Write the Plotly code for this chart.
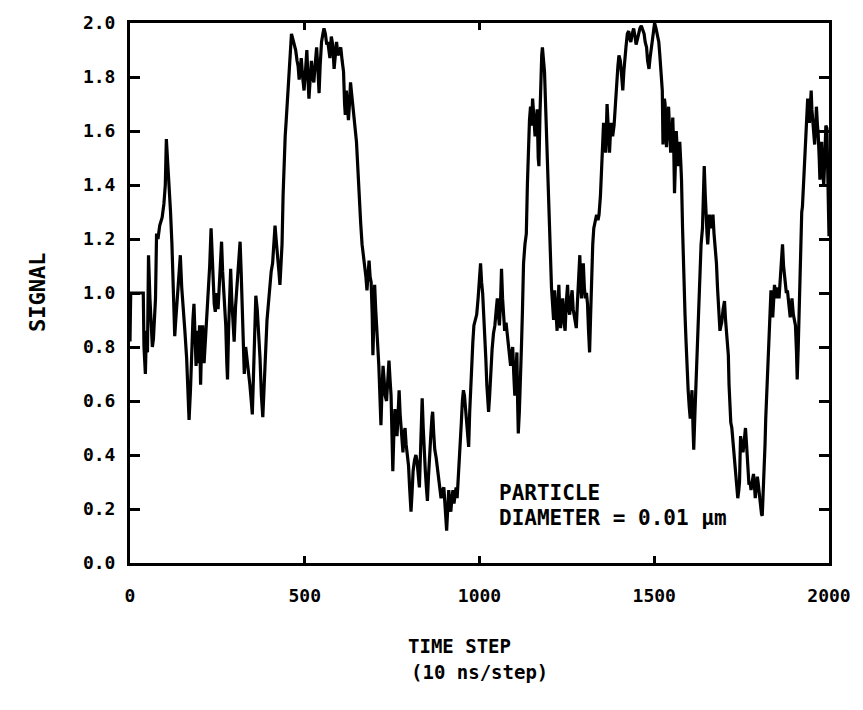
import plotly.graph_objects as go

# Time step (10 ns per step) and detected signal for a 0.01 um particle
time_step = [
    0, 2, 38, 40, 44, 47, 50, 53, 57, 60, 64, 67, 70, 73, 76, 80, 85, 92, 97, 101,
    104, 108, 112, 116, 120, 124, 128, 131, 135, 140, 144, 148, 152, 157, 162, 166, 169, 173, 176, 180,
    183, 186, 189, 193, 196, 199, 202, 205, 208, 212, 216, 220, 224, 228, 232, 235, 238, 241, 244, 248,
    252, 256, 259, 262, 265, 268, 271, 274, 277, 279, 282, 285, 288, 291, 294, 298, 302, 306, 310, 315,
    318, 321, 324, 327, 331, 335, 339, 343, 347, 350, 353, 356, 360, 364, 368, 372, 376, 380, 384, 388,
    392, 396, 400, 404, 408, 412, 415, 418, 422, 426, 429, 432, 435, 438, 441, 444, 447, 450, 453, 456,
    459, 462, 466, 470, 474, 478, 481, 484, 487, 490, 494, 498, 502, 506, 509, 512, 516, 519, 523, 526,
    530, 534, 538, 541, 544, 548, 552, 555, 559, 563, 566, 569, 572, 576, 580, 584, 588, 591, 595, 599,
    603, 607, 611, 614, 616, 619, 622, 625, 628, 631, 634, 638, 641, 644, 648, 652, 656, 660, 664, 668,
    672, 675, 678, 681, 684, 687, 690, 693, 695, 697, 700, 703, 706, 709, 712, 715, 718, 721, 724, 727,
    730, 734, 738, 741, 744, 747, 750, 752, 755, 758, 761, 764, 767, 770, 773, 777, 781, 784, 787, 790,
    794, 797, 800, 804, 807, 810, 814, 818, 821, 825, 828, 831, 834, 836, 839, 842, 845, 848, 851, 854,
    857, 861, 864, 866, 869, 872, 876, 879, 882, 886, 890, 894, 898, 901, 904, 906, 909, 912, 915, 918,
    921, 924, 927, 930, 933, 936, 939, 942, 945, 948, 951, 954, 957, 960, 963, 966, 969, 972, 975, 978,
    981, 984, 988, 992, 996, 1000, 1003, 1006, 1009, 1012, 1015, 1018, 1021, 1024, 1026, 1029, 1032, 1036, 1040, 1044,
    1048, 1051, 1054, 1057, 1060, 1063, 1066, 1069, 1072, 1076, 1080, 1084, 1087, 1089, 1092, 1095, 1098, 1101, 1104, 1107,
    1109, 1111, 1114, 1117, 1120, 1123, 1126, 1130, 1134, 1137, 1140, 1143, 1146, 1149, 1152, 1156, 1159, 1162, 1165, 1168,
    1170, 1173, 1175, 1178, 1180, 1183, 1186, 1189, 1192, 1195, 1197, 1200, 1202, 1206, 1209, 1212, 1215, 1218, 1222, 1225,
    1227, 1230, 1232, 1235, 1238, 1241, 1245, 1248, 1252, 1255, 1258, 1262, 1265, 1268, 1272, 1277, 1280, 1284, 1287, 1290,
    1292, 1295, 1297, 1300, 1303, 1306, 1309, 1312, 1315, 1318, 1321, 1324, 1327, 1331, 1335, 1339, 1342, 1346, 1349, 1352,
    1355, 1358, 1361, 1365, 1368, 1372, 1375, 1377, 1381, 1385, 1389, 1392, 1396, 1399, 1403, 1407, 1410, 1413, 1416, 1419,
    1423, 1427, 1430, 1433, 1437, 1441, 1445, 1448, 1452, 1455, 1459, 1463, 1467, 1471, 1474, 1478, 1481, 1485, 1488, 1491,
    1495, 1498, 1501, 1505, 1509, 1513, 1516, 1518, 1521, 1523, 1525, 1527, 1529, 1531, 1533, 1535, 1538, 1541, 1544, 1547,
    1550, 1553, 1556, 1558, 1561, 1563, 1566, 1568, 1571, 1573, 1576, 1578, 1581, 1583, 1586, 1588, 1591, 1593, 1597, 1600,
    1603, 1606, 1608, 1611, 1613, 1616, 1618, 1621, 1623, 1627, 1631, 1634, 1638, 1641, 1643, 1646, 1648, 1651, 1653, 1656,
    1658, 1661, 1663, 1666, 1668, 1671, 1673, 1676, 1678, 1681, 1683, 1686, 1688, 1691, 1693, 1697, 1701, 1704, 1706, 1709,
    1712, 1714, 1716, 1719, 1722, 1724, 1728, 1731, 1735, 1739, 1742, 1744, 1746, 1747, 1750, 1754, 1758, 1761, 1764, 1767,
    1770, 1771, 1774, 1777, 1780, 1784, 1787, 1789, 1792, 1795, 1797, 1800, 1804, 1807, 1809, 1812, 1814, 1817, 1819, 1822,
    1824, 1827, 1829, 1832, 1834, 1837, 1839, 1842, 1844, 1847, 1849, 1852, 1854, 1857, 1859, 1862, 1864, 1867, 1870, 1874,
    1878, 1881, 1885, 1889, 1892, 1894, 1898, 1901, 1904, 1907, 1909, 1912, 1914, 1917, 1919, 1922, 1924, 1927, 1929, 1932,
    1934, 1937, 1939, 1942, 1944, 1947, 1949, 1951, 1954, 1957, 1959, 1962, 1964, 1967, 1969, 1972, 1974, 1977, 1979, 1982,
    1985, 1988, 1991, 1994, 1996, 1998, 2000,
]

signal = [
    0.82, 1.00, 1.00, 0.80, 0.70, 0.86, 0.78, 1.14, 0.98, 0.89, 0.80, 0.83, 0.92, 0.98, 1.22, 1.20, 1.25, 1.28, 1.33, 1.40,
    1.57, 1.48, 1.42, 1.30, 1.18, 1.03, 0.84, 0.90, 0.98, 1.08, 1.14, 1.02, 0.96, 0.86, 0.76, 0.62, 0.53, 0.64, 0.78, 0.90,
    0.96, 0.84, 0.73, 0.86, 0.74, 0.88, 0.66, 0.82, 0.88, 0.74, 0.82, 0.90, 0.98, 1.10, 1.24, 1.14, 1.03, 0.96, 0.93, 1.00,
    0.94, 1.06, 1.12, 1.19, 1.08, 1.02, 0.94, 0.88, 0.74, 0.68, 0.86, 1.00, 1.09, 0.98, 0.90, 0.82, 0.95, 1.03, 1.12, 1.19,
    1.08, 0.95, 0.76, 0.70, 0.80, 0.76, 0.70, 0.66, 0.60, 0.55, 0.68, 0.86, 0.99, 0.94, 0.86, 0.76, 0.62, 0.54, 0.66, 0.79,
    0.90, 0.96, 1.03, 1.08, 1.11, 1.18, 1.25, 1.20, 1.15, 1.08, 1.03, 1.12, 1.18, 1.36, 1.50, 1.58, 1.64, 1.70, 1.76, 1.84,
    1.92, 1.96, 1.94, 1.92, 1.90, 1.86, 1.84, 1.79, 1.82, 1.87, 1.80, 1.75, 1.82, 1.90, 1.80, 1.72, 1.80, 1.86, 1.80, 1.78,
    1.85, 1.91, 1.82, 1.74, 1.84, 1.93, 1.96, 1.98, 1.96, 1.92, 1.93, 1.90, 1.87, 1.95, 1.92, 1.83, 1.90, 1.93, 1.88, 1.90,
    1.91, 1.86, 1.82, 1.70, 1.66, 1.75, 1.70, 1.64, 1.70, 1.78, 1.74, 1.68, 1.64, 1.62, 1.56, 1.46, 1.34, 1.26, 1.18, 1.14,
    1.11, 1.06, 1.01, 1.08, 1.12, 1.06, 1.04, 0.92, 0.77, 0.86, 1.03, 0.94, 0.88, 0.80, 0.73, 0.62, 0.51, 0.64, 0.73, 0.68,
    0.62, 0.60, 0.70, 0.75, 0.68, 0.62, 0.45, 0.34, 0.48, 0.57, 0.52, 0.47, 0.55, 0.64, 0.55, 0.46, 0.41, 0.48, 0.50, 0.44,
    0.38, 0.36, 0.28, 0.19, 0.26, 0.34, 0.38, 0.40, 0.38, 0.32, 0.28, 0.40, 0.52, 0.61, 0.50, 0.40, 0.34, 0.28, 0.23, 0.32,
    0.41, 0.48, 0.54, 0.56, 0.48, 0.42, 0.39, 0.36, 0.34, 0.30, 0.24, 0.27, 0.28, 0.22, 0.16, 0.12, 0.20, 0.27, 0.22, 0.19,
    0.24, 0.27, 0.22, 0.25, 0.28, 0.24, 0.30, 0.36, 0.44, 0.52, 0.60, 0.64, 0.62, 0.58, 0.54, 0.48, 0.43, 0.56, 0.66, 0.73,
    0.82, 0.88, 0.90, 0.92, 0.98, 1.06, 1.11, 1.04, 1.00, 0.92, 0.86, 0.76, 0.66, 0.60, 0.56, 0.62, 0.70, 0.79, 0.85, 0.88,
    0.94, 0.98, 0.92, 0.88, 0.96, 1.09, 0.98, 0.90, 0.86, 0.89, 0.84, 0.80, 0.76, 0.73, 0.78, 0.80, 0.70, 0.62, 0.70, 0.78,
    0.60, 0.48, 0.56, 0.66, 0.80, 0.94, 1.11, 1.18, 1.22, 1.40, 1.55, 1.64, 1.69, 1.62, 1.72, 1.64, 1.58, 1.62, 1.68, 1.50,
    1.47, 1.66, 1.79, 1.88, 1.91, 1.86, 1.82, 1.70, 1.58, 1.44, 1.31, 1.20, 1.11, 1.02, 0.96, 0.90, 1.01, 0.92, 0.86, 0.96,
    1.03, 0.92, 0.87, 0.94, 0.98, 0.90, 0.86, 0.96, 1.03, 0.94, 0.92, 0.98, 1.01, 0.94, 0.90, 0.87, 0.96, 1.06, 1.14, 1.02,
    0.98, 1.06, 1.11, 1.02, 0.98, 1.00, 0.96, 0.86, 0.78, 0.92, 1.11, 1.18, 1.24, 1.26, 1.29, 1.27, 1.29, 1.36, 1.47, 1.56,
    1.63, 1.56, 1.52, 1.70, 1.62, 1.52, 1.60, 1.63, 1.58, 1.62, 1.70, 1.78, 1.84, 1.88, 1.86, 1.80, 1.75, 1.82, 1.88, 1.91,
    1.96, 1.97, 1.94, 1.93, 1.96, 1.98, 1.95, 1.92, 1.94, 1.96, 1.98, 1.99, 1.97, 1.96, 1.93, 1.91, 1.86, 1.83, 1.87, 1.90,
    1.95, 1.97, 2.00, 1.98, 1.95, 1.93, 1.88, 1.83, 1.78, 1.75, 1.55, 1.64, 1.72, 1.70, 1.60, 1.54, 1.62, 1.69, 1.60, 1.52,
    1.58, 1.65, 1.52, 1.37, 1.50, 1.60, 1.52, 1.47, 1.53, 1.56, 1.48, 1.42, 1.24, 1.11, 1.02, 0.92, 0.82, 0.73, 0.64, 0.58,
    0.535, 0.60, 0.64, 0.50, 0.42, 0.54, 0.62, 0.72, 0.79, 0.96, 1.11, 1.18, 1.24, 1.36, 1.47, 1.36, 1.27, 1.22, 1.18, 1.24,
    1.29, 1.26, 1.24, 1.27, 1.29, 1.22, 1.19, 1.14, 1.11, 1.02, 0.96, 0.90, 0.86, 0.88, 0.89, 0.94, 0.97, 0.90, 0.86, 0.80,
    0.77, 0.66, 0.60, 0.52, 0.50, 0.47, 0.42, 0.37, 0.30, 0.24, 0.27, 0.30, 0.42, 0.47, 0.44, 0.41, 0.46, 0.50, 0.44, 0.39,
    0.34, 0.29, 0.30, 0.27, 0.30, 0.33, 0.28, 0.24, 0.28, 0.32, 0.30, 0.26, 0.21, 0.18, 0.175, 0.26, 0.34, 0.44, 0.535, 0.62,
    0.73, 0.80, 0.88, 0.94, 1.01, 0.96, 0.91, 0.98, 1.03, 1.00, 0.98, 1.01, 1.02, 0.98, 1.03, 1.08, 1.16, 1.18, 1.10, 1.03,
    1.00, 1.01, 0.96, 0.91, 0.94, 0.98, 0.92, 0.90, 0.88, 0.78, 0.68, 0.80, 0.92, 1.10, 1.24, 1.30, 1.32, 1.40, 1.50, 1.58,
    1.64, 1.68, 1.72, 1.66, 1.63, 1.70, 1.75, 1.68, 1.64, 1.58, 1.55, 1.62, 1.69, 1.62, 1.59, 1.50, 1.42, 1.50, 1.56, 1.45,
    1.40, 1.50, 1.62, 1.61, 1.45, 1.30, 1.21,
]

x_ticks = [0, 500, 1000, 1500, 2000]
y_ticks = [0.0, 0.2, 0.4, 0.6, 0.8, 1.0, 1.2, 1.4, 1.6, 1.8, 2.0]

FONT = "DejaVu Sans Mono"
tick_font = dict(family=FONT, size=18, color="black", weight="bold")
label_font = dict(family=FONT, size=19, color="black", weight="bold")

fig = go.Figure(
    go.Scatter(
        x=time_step,
        y=signal,
        mode="lines",
        line=dict(color="black", width=3.2),
        hoverinfo="skip",
    )
)

axis_common = dict(
    showgrid=False,
    zeroline=False,
    showline=True,
    linecolor="black",
    linewidth=3,
    mirror="ticks",
    ticks="inside",
    tickcolor="black",
    tickwidth=2.5,
    tickfont=tick_font,
)

fig.update_xaxes(range=[0, 2000], tickvals=x_ticks, ticklen=7,
                 ticklabelstandoff=14, **axis_common)
fig.update_yaxes(range=[0, 2], tickvals=y_ticks, tickformat=".1f", ticklen=10,
                 ticklabelstandoff=8, **axis_common)

fig.add_annotation(x=-0.153, y=0.501, xref="paper", yref="paper", text="SIGNAL",
                   textangle=-90, showarrow=False,
                   font=dict(family=FONT, size=22, color="black", weight="bold"))
fig.add_annotation(x=0.472, y=-0.178, xref="paper", yref="paper", text="TIME STEP",
                   showarrow=False, font=label_font)
fig.add_annotation(x=0.5, y=-0.226, xref="paper", yref="paper", text="(10 ns/step)",
                   showarrow=False, font=label_font)

note_font = dict(family=FONT, size=21, color="black", weight="bold")
fig.add_annotation(x=1050, y=0.26, text="PARTICLE", xanchor="left", showarrow=False,
                   font=note_font)
fig.add_annotation(x=1050, y=0.165, text="DIAMETER = 0.01 µm", xanchor="left",
                   showarrow=False, font=note_font)

fig.update_layout(
    width=863,
    height=710,
    margin=dict(l=130, r=28, t=18, b=147),
    plot_bgcolor="white",
    paper_bgcolor="white",
    showlegend=False,
)

fig.write_html("out.html")
